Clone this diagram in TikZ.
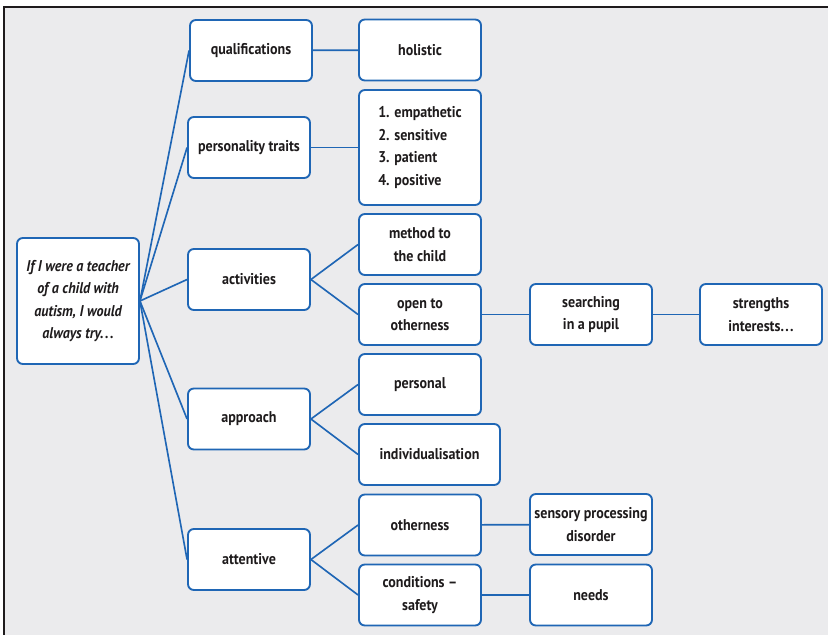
\documentclass[tikz,border=0pt]{standalone}
\usepackage{fontspec}
\setmainfont[FakeStretch=0.9]{PT Sans}
\definecolor{linkblue}{RGB}{31,102,181}
\definecolor{panelgray}{RGB}{235,235,237}
\definecolor{textdark}{RGB}{30,27,28}
\newcommand{\wdots}{.\kern1.2pt.\kern1.2pt.}
\tikzset{
  box/.style={draw=linkblue, line width=1.6pt, rounded corners=5pt, fill=white,
    align=center, text=textdark, font=\bfseries\fontsize{13.3}{19.3}\selectfont,
    minimum width=3.66cm, minimum height=1.83cm, inner sep=2pt},
  link/.style={draw=linkblue, line width=1.4pt}
}
\begin{document}
\begin{tikzpicture}[x=0.03cm,y=-0.03cm]

\useasboundingbox (0,0) rectangle (828,635);
\fill [panelgray] (4,7) rectangle (828,635);
\draw [textdark, line width=1.1pt] (4,635) -- (4,7) -- (828,7);

% root
\node [box, minimum height=3.78cm, font=\bfseries\itshape\fontsize{13.3}{19.3}\selectfont]
  (root) at (78,301) {If I were a teacher\\ of a child with\\ autism, I would\\ always try\wdots};

% first level
\node [box] (qual) at (251,50.5) {qualifications};
\node [box] (pers) at (249,147.5) {personality traits};
\node [box] (activ) at (249,279.5) {activities};
\node [box] (appr) at (249,419) {approach};
\node [box] (atten) at (249,559.5) {attentive};

% second level
\node [box] (holist) at (420,50) {holistic};
\node [box, minimum height=3.45cm, align=left] (traits) at (420,147.5)
  {1. empathetic\\ 2. sensitive\\ 3. patient\\ 4. positive};
\node [box] (method) at (420,244.5) {method to\\ the child};
\node [box] (open) at (420,314.5) {open to\\ otherness};
\node [box] (person) at (420,384.5) {personal};
\node [box, minimum width=4.23cm] (indiv) at (429.5,454.5) {individualisation};
\node [box] (other) at (420,525) {otherness};
\node [box] (cond) at (420,595) {conditions --\\ safety};

% third level
\node [box] (search) at (591,314.5) {searching\\ in a pupil};
\node [box] (strength) at (761,314.5) {strengths\\ interests\wdots};
\node [box] (sensory) at (591,524.5) {sensory processing\\ disorder};
\node [box] (needs) at (591,595) {needs};

% links
\foreach \n in {qual,pers,activ,appr,atten}
  \draw [link] (root.east) -- (\n.west);
\draw [link] (qual) -- (holist);
\draw [link] (pers) -- (traits);
\draw [link] (activ.east) -- (method.west);
\draw [link] (activ.east) -- (open.west);
\draw [link] (appr.east) -- (person.west);
\draw [link] (appr.east) -- (indiv.west);
\draw [link] (atten.east) -- (other.west);
\draw [link] (atten.east) -- (cond.west);
\draw [link] (open) -- (search);
\draw [link] (search) -- (strength);
\draw [link] (other) -- (sensory);
\draw [link] (cond) -- (needs);

\end{tikzpicture}
\end{document}
